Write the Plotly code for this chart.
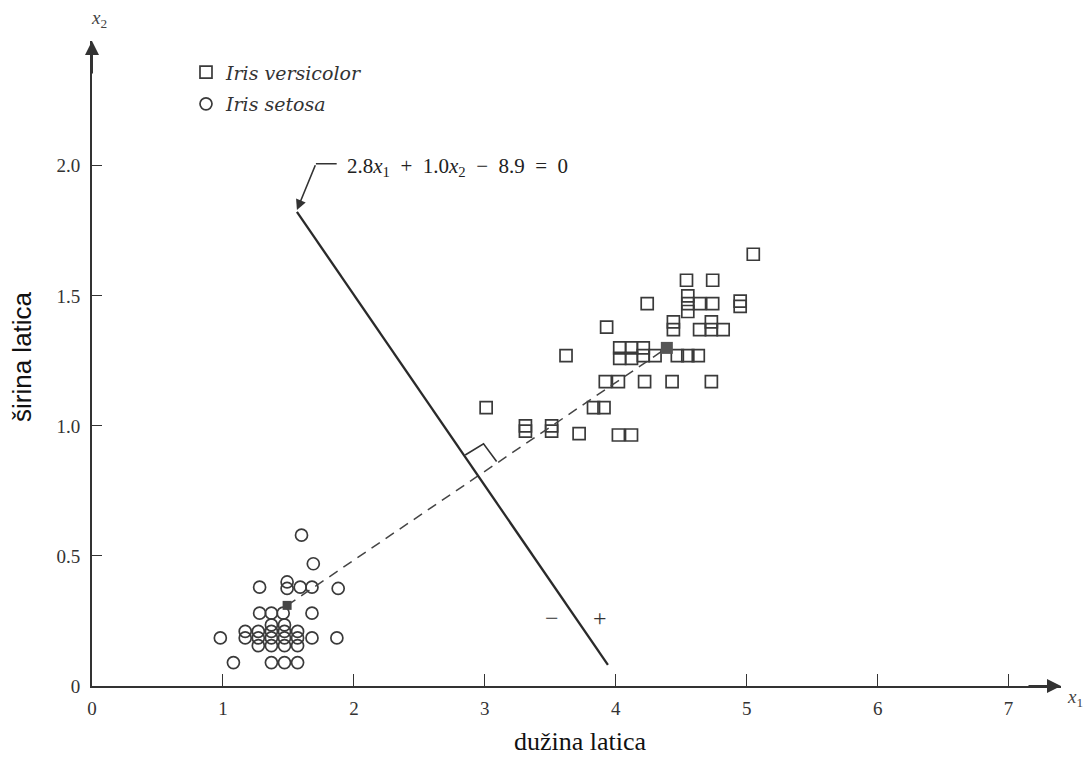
import plotly.graph_objects as go

# ---------------- data ----------------
versicolor_x = [5.05, 4.54, 4.74, 4.55, 4.55, 4.55, 4.24, 4.64, 4.74, 4.95, 4.95,
                4.44, 4.44, 4.64, 4.73, 4.73, 4.82, 3.93, 3.62,
                4.03, 4.03, 4.12, 4.12, 4.21, 4.21, 4.30, 4.47, 4.55, 4.63,
                3.92, 4.02, 4.22, 4.43, 4.73,
                3.83, 3.91, 3.01, 3.31, 3.31, 3.51, 3.51, 3.72, 4.02, 4.12]
versicolor_y = [1.66, 1.56, 1.56, 1.50, 1.47, 1.44, 1.47, 1.47, 1.47, 1.48, 1.46,
                1.40, 1.37, 1.37, 1.40, 1.37, 1.37, 1.38, 1.27,
                1.30, 1.26, 1.30, 1.26, 1.30, 1.27, 1.27, 1.27, 1.27, 1.27,
                1.17, 1.17, 1.17, 1.17, 1.17,
                1.07, 1.07, 1.07, 1.00, 0.98, 1.00, 0.98, 0.97, 0.965, 0.965]

setosa_x = [1.60, 1.69, 1.28, 1.49, 1.49, 1.59, 1.68, 1.88,
            1.28, 1.37, 1.46, 1.68,
            0.98, 1.17, 1.27, 1.37, 1.47, 1.57, 1.68, 1.87,
            1.17, 1.27, 1.37, 1.47, 1.57,
            1.27, 1.37, 1.47, 1.57, 1.37, 1.47,
            1.08, 1.37, 1.47, 1.57]
setosa_y = [0.58, 0.47, 0.38, 0.40, 0.375, 0.38, 0.38, 0.375,
            0.28, 0.28, 0.28, 0.28,
            0.185, 0.185, 0.185, 0.185, 0.185, 0.185, 0.185, 0.185,
            0.21, 0.21, 0.21, 0.21, 0.21,
            0.155, 0.155, 0.155, 0.155, 0.235, 0.235,
            0.09, 0.09, 0.09, 0.09]

mean_x = [1.49, 4.39]          # class means (filled marks)
mean_y = [0.31, 1.30]

boundary_x = [1.565, 3.94]     # drawn decision boundary
boundary_y = [1.823, 0.081]

right_angle_x = [2.85, 2.99, 3.09]
right_angle_y = [0.888, 0.931, 0.863]

x_ticks = [0, 1, 2, 3, 4, 5, 6, 7]
y_ticks = [0, 0.5, 1.0, 1.5, 2.0]
y_tick_text = ["0", "0.5", "1.0", "1.5", "2.0"]

X_MAX, Y_MAX = 7.4, 2.48
INK = "#333333"
SERIF = "Liberation Serif, DejaVu Serif, serif"
WIDE_SERIF = "DejaVu Serif, Liberation Serif, serif"

fig = go.Figure()

fig.add_trace(go.Scatter(
    x=versicolor_x, y=versicolor_y, mode="markers", name="<i>Iris versicolor</i>",
    legendgroup="v",
    marker=dict(symbol="square-open", size=12, color="#3a3a3a", line=dict(width=1.7)),
))
fig.add_trace(go.Scatter(
    x=setosa_x, y=setosa_y, mode="markers", name="<i>Iris setosa</i>",
    legendgroup="s",
    marker=dict(symbol="circle-open", size=12, color="#3a3a3a", line=dict(width=1.7)),
))
# dashed line joining class means
fig.add_trace(go.Scatter(
    x=mean_x, y=mean_y, mode="lines", showlegend=False,
    line=dict(color="#444444", width=1.5, dash="10px,7px"),
))
# filled class means
fig.add_trace(go.Scatter(
    x=mean_x[:1], y=mean_y[:1], mode="markers", showlegend=False,
    marker=dict(symbol="square", size=9, color="#444444"),
))
fig.add_trace(go.Scatter(
    x=mean_x[1:], y=mean_y[1:], mode="markers", showlegend=False,
    marker=dict(symbol="square", size=12, color="#555555"),
))
# decision boundary
fig.add_trace(go.Scatter(
    x=boundary_x, y=boundary_y, mode="lines", showlegend=False,
    line=dict(color="#2a2a2a", width=2.3),
))
# right-angle mark
fig.add_trace(go.Scatter(
    x=right_angle_x, y=right_angle_y, mode="lines", showlegend=False,
    line=dict(color="#333333", width=1.6),
))

SP = "\u2002"
annotations = [
    # equation label
    dict(x=1.93, y=1.996, xref="x", yref="y", xanchor="left", yanchor="middle",
         text=f"2.8<i>x</i><sub>1</sub>{SP}+{SP}1.0<i>x</i><sub>2</sub>{SP}\u2212{SP}8.9{SP}={SP}0",
         showarrow=False, font=dict(family=SERIF, size=21, color="#222")),
    # leader: horizontal stub then arrow to line end
    dict(x=1.71, y=2.008, ax=1.88, ay=2.008, xref="x", yref="y", axref="x", ayref="y",
         text="", showarrow=True, arrowhead=0, arrowwidth=1.4, arrowcolor=INK),
    dict(x=1.565, y=1.83, ax=1.71, ay=2.008, xref="x", yref="y", axref="x", ayref="y",
         text="", showarrow=True, arrowhead=2, arrowsize=1.3, arrowwidth=1.6, arrowcolor=INK),
    # side signs
    dict(x=3.51, y=0.26, xref="x", yref="y", text="\u2212", showarrow=False,
         font=dict(family=SERIF, size=24, color="#333")),
    dict(x=3.88, y=0.26, xref="x", yref="y", text="+", showarrow=False,
         font=dict(family=SERIF, size=24, color="#333")),
    # axis arrows
    dict(x=X_MAX, y=0, ax=-34, ay=0, xref="x", yref="y", text="", showarrow=True,
         arrowhead=2, arrowsize=1.4, arrowwidth=2, arrowcolor=INK),
    dict(x=0, y=Y_MAX, ax=0, ay=34, xref="x", yref="y", text="", showarrow=True,
         arrowhead=2, arrowsize=1.4, arrowwidth=2, arrowcolor=INK),
    # axis symbol names
    dict(x=X_MAX, y=0, xref="x", yref="y", xanchor="left", yanchor="middle", xshift=4, yshift=-12,
         text="<i>x</i><sub>1</sub>", showarrow=False,
         font=dict(family=SERIF, size=19, color="#444")),
    dict(x=0, y=Y_MAX, xref="x", yref="y", xanchor="center", yanchor="bottom", xshift=7, yshift=8,
         text="<i>x</i><sub>2</sub>", showarrow=False,
         font=dict(family=SERIF, size=19, color="#444")),
    # axis titles
    dict(x=3.73, y=0, xref="x", yref="y", yanchor="top", yshift=-39,
         text="du\u017eina latica", showarrow=False,
         font=dict(family=SERIF, size=26, color="#111")),
    dict(x=0, y=1.265, xref="x", yref="y", xanchor="center", xshift=-70, textangle=-90,
         text="\u0161irina latica", showarrow=False,
         font=dict(family="Liberation Sans Narrow, Liberation Sans, sans-serif", size=26, color="#111")),
]

fig.update_layout(
    width=1083, height=750,
    margin=dict(l=84, r=30, t=33, b=72),
    paper_bgcolor="white", plot_bgcolor="white",
    showlegend=True,
    legend=dict(x=0.097, y=0.981, xanchor="left", yanchor="top",
                bgcolor="rgba(0,0,0,0)", tracegroupgap=4,
                font=dict(family=WIDE_SERIF, size=19, color="#333")),
    annotations=annotations,
)
fig.update_xaxes(range=[0, X_MAX], showgrid=False, zeroline=False,
                 showline=True, linecolor=INK, linewidth=2,
                 ticks="inside", ticklen=12, tickwidth=1.4, tickcolor=INK,
                 tickvals=x_ticks, ticktext=[str(t) for t in x_ticks],
                 ticklabelstandoff=4,
                 tickfont=dict(family=SERIF, size=19, color="#333"))
fig.update_yaxes(range=[0, Y_MAX], showgrid=False, zeroline=False,
                 showline=True, linecolor=INK, linewidth=2,
                 ticks="inside", ticklen=10, tickwidth=1.4, tickcolor=INK,
                 tickvals=y_ticks, ticktext=y_tick_text,
                 ticklabelstandoff=6,
                 tickfont=dict(family=SERIF, size=19, color="#333"))

fig.write_html("out.html")
